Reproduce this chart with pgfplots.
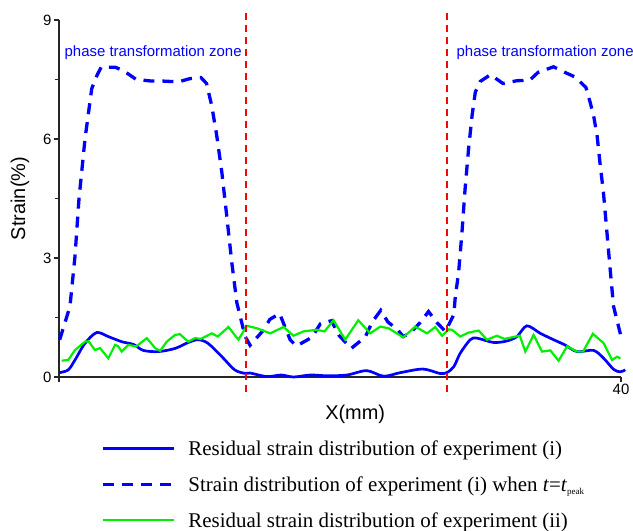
\documentclass[border=0pt]{standalone}
\usepackage{pgfplots}
\pgfplotsset{compat=1.18}
\usepackage{fontspec}
\setmainfont{Liberation Sans}
\newfontfamily\serifleg{Liberation Serif}

\definecolor{pblue}{RGB}{0,0,255}
\definecolor{pgreen}{RGB}{0,240,0}
\definecolor{pred}{RGB}{255,0,0}

\begin{document}
\begin{tikzpicture}
\begin{axis}[
  scale only axis,
  width=562bp, height=357bp,
  xmin=0, xmax=40, ymin=0, ymax=9,
  clip=false,
  axis lines=left,
  axis line style={-, line width=1.3bp, black!85},
  tick style={line width=1.1bp, black!85},
  tick align=outside,
  major tick length=5bp,
  minor tick length=4bp,
  xtick={0,40}, xticklabels={,40},
  ytick={0,3,6,9},
  minor y tick num=1,
  ticklabel style={font=\fontsize{15}{17}\selectfont},
  /pgf/number format/assume math mode=true,
  xticklabel style={yshift=1bp},
  yticklabel style={xshift=1bp},
  xlabel={X(mm)},
  ylabel={Strain(\%)},
  label style={font=\fontsize{20}{22}\selectfont},
  xlabel style={at={(axis description cs:0.527,-0.106)}, anchor=center},
  ylabel style={at={(axis description cs:-0.0694,0.5)}, anchor=center},
  legend cell align=left,
  legend image code/.code={\draw[#1] (0bp,0.28em) -- (71bp,0.28em);},
  legend style={draw=none, fill=none,
    font=\serifleg\fontsize{21}{23}\selectfont,
    at={(axis description cs:0.0747,-0.1806)}, anchor=north west,
    inner sep=0pt, row sep=17bp, column sep=13bp,
    nodes={inner sep=0pt, text height=14bp, text depth=5bp}},
]
% residual strain, experiment (i)
\addplot[pblue, line width=2.7bp, smooth, tension=0.5] coordinates {
 (0.05,0.11) (0.66,0.18) (1.14,0.43) (1.85,0.85) (2.68,1.12) (3.5,1.02)
 (4.46,0.89) (5.3,0.82) (6.0,0.67) (7.07,0.64) (8.26,0.72) (9.2,0.87)
 (9.9,0.94) (10.6,0.85) (11.6,0.51) (12.5,0.18) (13.25,0.09) (13.6,0.1)
 (14.8,0.01) (15.8,0.05) (16.7,0.0) (17.9,0.05) (19.1,0.03) (20.5,0.05)
 (21.9,0.16) (23.1,0.02) (24.3,0.11) (25.9,0.2) (27.1,0.09) (27.6,0.11)
 (28.1,0.26) (28.56,0.6) (29.27,0.94) (29.75,0.98) (30.93,0.87) (31.9,0.91)
 (32.6,1.02) (33.3,1.29) (34.26,1.1) (35.2,0.94) (36.0,0.81) (36.87,0.64)
 (38.05,0.67) (38.77,0.47) (39.48,0.19) (39.96,0.13) (40.3,0.18)
};
\addlegendentry{Residual strain distribution of experiment (i)}
% strain at the peak moment, experiment (i)
\addplot[pblue, line width=3.3bp, dash pattern=on 11bp off 8bp] coordinates {
 (0.05,0.94) (0.78,1.78) (1.14,3.05) (1.42,4.48) (1.85,6.0) (2.33,7.27)
 (2.7,7.6) (3.0,7.81) (4.0,7.81) (4.6,7.72) (5.5,7.5) (6.6,7.46) (7.4,7.46)
 (8.5,7.44) (9.3,7.52) (10.1,7.55) (10.5,7.4) (10.87,6.84) (11.23,6.08)
 (11.59,5.16) (11.94,4.06) (12.3,2.88) (12.66,1.87) (13.25,1.02)
 (13.6,0.8) (14.6,1.2) (15.0,1.45) (15.7,1.6) (16.45,0.94) (16.9,0.78)
 (18.0,1.0) (18.6,1.34) (19.4,1.42) (19.9,1.06) (20.8,0.72) (21.8,1.01)
 (22.3,1.39) (22.9,1.68) (23.4,1.39) (24.1,1.19) (24.5,1.02) (25.0,1.11)
 (25.7,1.37) (26.3,1.65) (26.9,1.37) (27.5,1.15) (28.1,1.57)
 (28.2,2.0) (28.44,2.63) (28.68,3.64) (28.9,4.73) (29.15,5.75) (29.4,6.59)
 (29.63,7.18) (29.98,7.45) (30.7,7.62) (31.6,7.4) (32.6,7.47) (33.5,7.48)
 (34.1,7.68) (35.2,7.82) (36.0,7.68) (36.75,7.56) (37.5,7.3) (37.8,6.93)
 (38.05,6.59) (38.3,6.08) (38.5,5.41) (38.75,4.65) (39.0,3.64) (39.25,2.63)
 (39.47,1.78) (39.96,1.08)
};
\addlegendentry{Strain distribution of experiment (i) when \textit{t}=\textit{t}\textsubscript{\fontsize{9}{9}\selectfont peak}}
% residual strain, experiment (ii)
\addplot[pgreen, line width=2.2bp] coordinates {
 (0.19,0.41) (0.66,0.43) (1.14,0.68) (1.85,0.89) (2.1,0.9) (2.56,0.68)
 (2.92,0.73) (3.51,0.47) (3.99,0.81) (4.2,0.78) (4.46,0.64) (4.94,0.81)
 (5.5,0.77) (6.25,0.98) (6.84,0.73) (7.2,0.66) (7.67,0.89) (8.26,1.06)
 (8.6,1.08) (9.2,0.89) (9.68,0.98) (10.1,0.96) (10.87,1.1) (11.3,1.02)
 (12.06,1.26) (12.77,0.94) (13.37,1.29) (14.08,1.23) (15.03,1.1) (15.98,1.26)
 (16.69,1.04) (17.4,1.15) (18.35,1.19) (18.9,1.15) (19.54,1.43) (20.37,0.94)
 (21.3,1.43) (22.15,1.1) (22.86,1.27) (23.45,1.23) (24.5,1.0) (25.36,1.27)
 (26.19,1.1) (26.78,1.26) (27.26,1.04) (27.73,1.2) (27.97,1.19) (28.56,1.02)
 (29.15,1.12) (29.87,1.17) (30.46,0.94) (31.17,1.04) (31.7,0.96) (32.24,1.0)
 (32.8,1.04) (33.19,0.64) (33.78,1.06) (34.38,0.64) (34.97,0.67) (35.56,0.41)
 (36.16,0.77) (36.87,0.64) (37.3,0.64) (38.0,1.09) (38.77,0.85) (39.36,0.43)
 (39.72,0.51) (39.96,0.47)
};
\addlegendentry{Residual strain distribution of experiment (ii)}
% zone boundaries
\addplot[pred, line width=1.5bp, dash pattern=on 7bp off 5bp, forget plot] coordinates {(13.3,-0.38) (13.3,9.2)};
\addplot[pred, line width=1.5bp, dash pattern=on 7bp off 5bp, forget plot] coordinates {(27.6,-0.38) (27.6,9.2)};
\node[pblue, anchor=base, font=\fontsize{15}{17}\selectfont] at (axis cs:6.7,8.09) {phase transformation zone};
\node[pblue, anchor=base, font=\fontsize{15}{17}\selectfont] at (axis cs:34.6,8.09) {phase transformation zone};
\coordinate (bl) at (rel axis cs:0,0);
\coordinate (tr) at (rel axis cs:1,1);
\end{axis}
\pgfresetboundingbox
\path ([shift={(-59bp,-154bp)}]bl) rectangle ([shift={(12bp,20bp)}]tr);
\end{tikzpicture}
\end{document}
